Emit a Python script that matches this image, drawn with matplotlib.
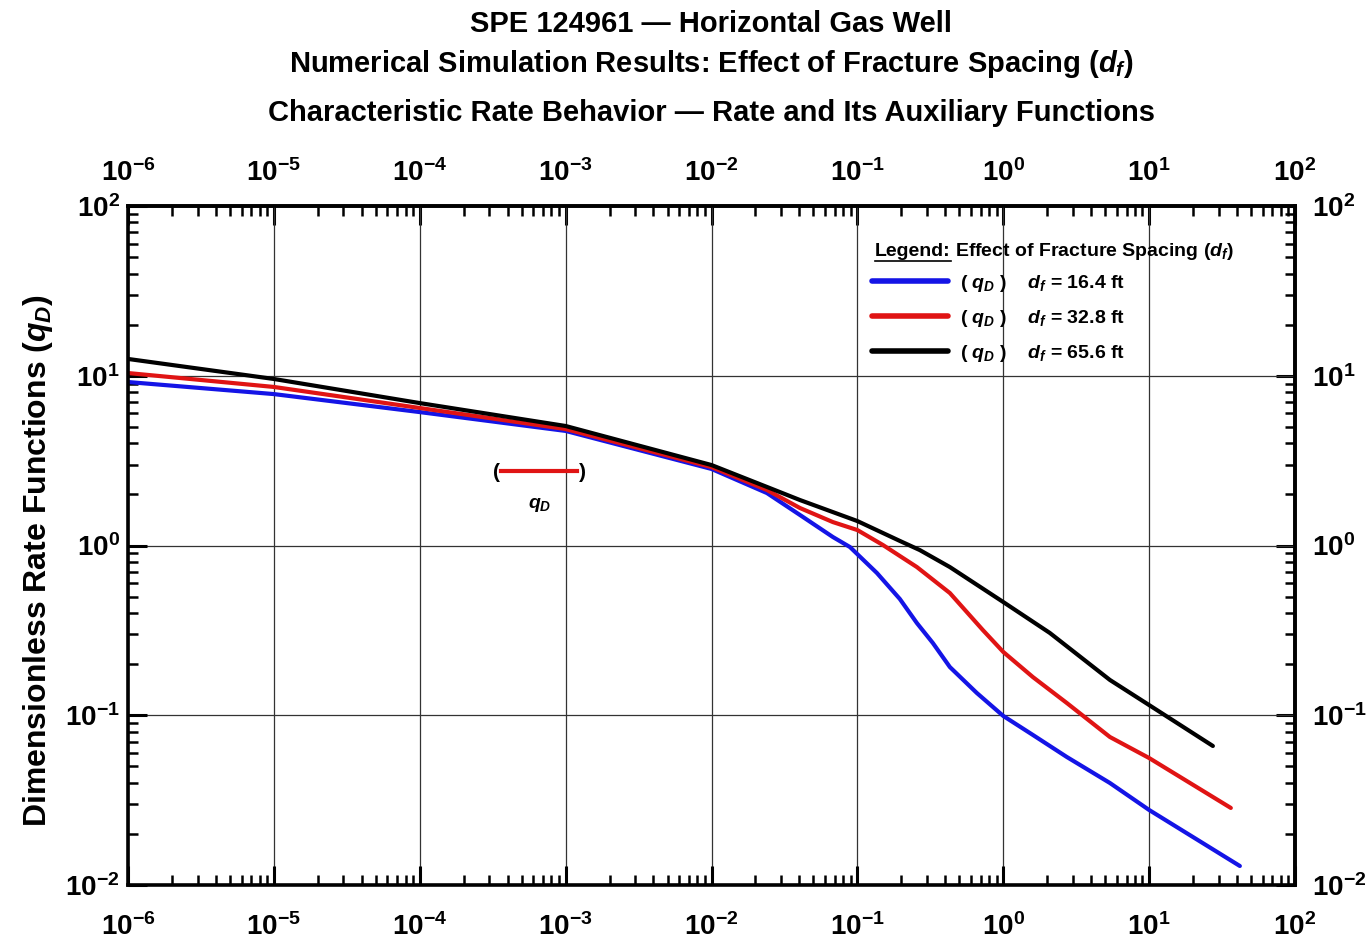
import matplotlib
matplotlib.use("Agg")
import matplotlib.pyplot as plt
from matplotlib.ticker import LogLocator, FixedLocator, FuncFormatter, NullFormatter
from matplotlib.lines import Line2D
import numpy as np

# ---- data (log10 of x and y) ----
logx_black = [-6.0, -5.0, -4.0, -3.0, -2.0, -1.620, -1.394, -1.0, -0.709, -0.572, -0.366, 0.0, 0.319, 0.731, 1.0, 1.437]
logy_black = [1.099, 0.981, 0.839, 0.704, 0.474, 0.345, 0.268, 0.144, 0.027, -0.027, -0.127, -0.333, -0.515, -0.792, -0.940, -1.181]

logx_red = [-6.0, -5.0, -4.0, -3.0, -2.0, -1.620, -1.394, -1.168, -1.0, -0.825, -0.592, -0.366, -0.140, 0.0, 0.203, 0.436, 0.731, 1.0, 1.560]
logy_red = [1.016, 0.934, 0.810, 0.686, 0.462, 0.327, 0.221, 0.138, 0.091, 0.003, -0.127, -0.280, -0.498, -0.627, -0.775, -0.928, -1.128, -1.252, -1.546]

logx_blue = [-6.0, -5.0, -4.0, -3.0, -2.0, -1.620, -1.394, -1.168, -1.051, -0.866, -0.709, -0.592, -0.483, -0.366, -0.181, 0.0, 0.203, 0.436, 0.731, 1.0, 1.622]
logy_blue = [0.963, 0.892, 0.786, 0.675, 0.451, 0.309, 0.180, 0.050, -0.009, -0.162, -0.315, -0.457, -0.574, -0.716, -0.869, -1.004, -1.116, -1.246, -1.399, -1.558, -1.888]

x_decades = [-6, -5, -4, -3, -2, -1, 0, 1, 2]
y_decades = [-2, -1, 0, 1, 2]

series_labels = [r"( $q_D$ )    $d_f$ = 16.4 ft",
                 r"( $q_D$ )    $d_f$ = 32.8 ft",
                 r"( $q_D$ )    $d_f$ = 65.6 ft"]
title_lines = ["SPE 124961 \u2014 Horizontal Gas Well",
               r"Numerical Simulation Results: Effect of Fracture Spacing ($d_f$)",
               "Characteristic Rate Behavior \u2014 Rate and Its Auxiliary Functions"]
ylabel_text = r"Dimensionless Rate Functions ($q_D$)"
legend_title_a = "Legend:"
legend_title_b = r"Effect of Fracture Spacing ($d_f$)"

# ---- style ----
fam = ["Liberation Sans Narrow", "Liberation Sans", "DejaVu Sans"]
plt.rcParams["font.family"] = fam
plt.rcParams["font.weight"] = "bold"
plt.rcParams["mathtext.fontset"] = "custom"
plt.rcParams["mathtext.rm"] = "Liberation Sans:bold"
plt.rcParams["mathtext.it"] = "Liberation Sans:italic:bold"
plt.rcParams["mathtext.bf"] = "Liberation Sans:bold"

W, H = 1372, 951
fig = plt.figure(figsize=(W / 100, H / 100), dpi=100)
L, R, T, B = 128, 1295, 206, 885
ax = fig.add_axes([L / W, 1 - B / H, (R - L) / W, (B - T) / H])

blue = "#1414e6"
red = "#e01414"
black = "#000000"
kw = dict(lw=3.0, solid_capstyle="round", solid_joinstyle="round")
lb, = ax.plot(10 ** np.array(logx_blue), 10 ** np.array(logy_blue), color=blue, **kw)
lr, = ax.plot(10 ** np.array(logx_red), 10 ** np.array(logy_red), color=red, **kw)
lk, = ax.plot(10 ** np.array(logx_black), 10 ** np.array(logy_black), color=black, **kw)

ax.set_xscale("log")
ax.set_yscale("log")
ax.set_xlim(10.0 ** x_decades[0], 10.0 ** x_decades[-1])
ax.set_ylim(10.0 ** y_decades[0], 10.0 ** y_decades[-1])

fmt = FuncFormatter(lambda v, p: r"$\mathbf{10^{%d}}$" % int(round(np.log10(v))))


def style_axis(axis, decades):
    axis.set_major_locator(FixedLocator([10.0 ** d for d in decades]))
    minors = [m * 10.0 ** d for d in decades[:-1] for m in range(2, 10)]
    axis.set_minor_locator(FixedLocator(minors))
    axis.set_major_formatter(fmt)
    axis.set_minor_formatter(NullFormatter())


style_axis(ax.xaxis, x_decades)
style_axis(ax.yaxis, y_decades)

ax.tick_params(which="major", direction="in", length=14, width=2.2, labelsize=20)
ax.tick_params(which="minor", direction="in", length=7, width=1.8)
ax.tick_params(axis="x", which="major", pad=20)
ax.tick_params(axis="y", which="major", pad=6)
for s in ax.spines.values():
    s.set_linewidth(2.6)
ax.grid(True, which="major", color="#333333", lw=0.9)

# top and right axes (same scale) carrying the mirrored ticks and labels
secx = ax.secondary_xaxis("top")
secx.set_xscale("log")
style_axis(secx.xaxis, x_decades)
secx.tick_params(which="major", direction="in", length=14, width=2.2, labelsize=20, pad=14)
secx.tick_params(which="minor", direction="in", length=7, width=1.8)
secx.spines["top"].set_linewidth(2.6)

secy = ax.secondary_yaxis("right")
secy.set_yscale("log")
style_axis(secy.yaxis, y_decades)
secy.tick_params(which="major", direction="in", length=14, width=2.2, labelsize=20, pad=12)
secy.tick_params(which="minor", direction="in", length=7, width=1.8)
secy.spines["right"].set_linewidth(2.6)

# titles
cx = (L + R) / 2 / W
for txt, py in zip(title_lines, [24, 64, 113]):
    fig.text(cx, 1 - py / H, txt, ha="center", va="center", fontsize=21, fontweight="bold")

# y label
fig.text(38 / W, 1 - 560 / H, ylabel_text, rotation=90, ha="center", va="center",
         fontsize=23, fontweight="bold", family=["Liberation Sans", "DejaVu Sans"])


def afx(px):
    return (px - L) / (R - L)


def afy(py):
    return (B - py) / (B - T)


# legend
leg = ax.legend([lb, lr, lk], series_labels, loc="upper left",
                bbox_to_anchor=(afx(872), afy(273)), frameon=False,
                handlelength=3.9, handletextpad=0.6, labelspacing=0.72,
                borderaxespad=0, borderpad=0,
                prop={"family": fam, "weight": "bold", "size": 14})
for h in leg.get_lines():
    h.set_linewidth(4)

t1 = ax.text(afx(875), afy(251), legend_title_a, transform=ax.transAxes, ha="left", va="center",
             fontsize=14, fontweight="bold")
fig.canvas.draw()
rend = fig.canvas.get_renderer()
bb = t1.get_window_extent(renderer=rend).transformed(ax.transAxes.inverted())
ax.text(bb.x1 + 0.004, afy(251), legend_title_b, transform=ax.transAxes,
        ha="left", va="center", fontsize=14, fontweight="bold")
ax.add_line(Line2D([bb.x0, bb.x1], [bb.y0 - 0.002, bb.y0 - 0.002], transform=ax.transAxes,
                   color="black", lw=1.2))

# in-plot rate marker label
ax.text(afx(496), afy(472), "(", transform=ax.transAxes, ha="center", va="center", fontsize=15)
ax.text(afx(582), afy(472), ")", transform=ax.transAxes, ha="center", va="center", fontsize=15)
ax.plot([afx(501), afx(577)], [afy(471), afy(471)], transform=ax.transAxes, color=red, lw=3)
ax.text(afx(540), afy(505), r"$q_D$", transform=ax.transAxes, ha="center", va="center", fontsize=14)

fig.savefig("out.png", dpi=100)
